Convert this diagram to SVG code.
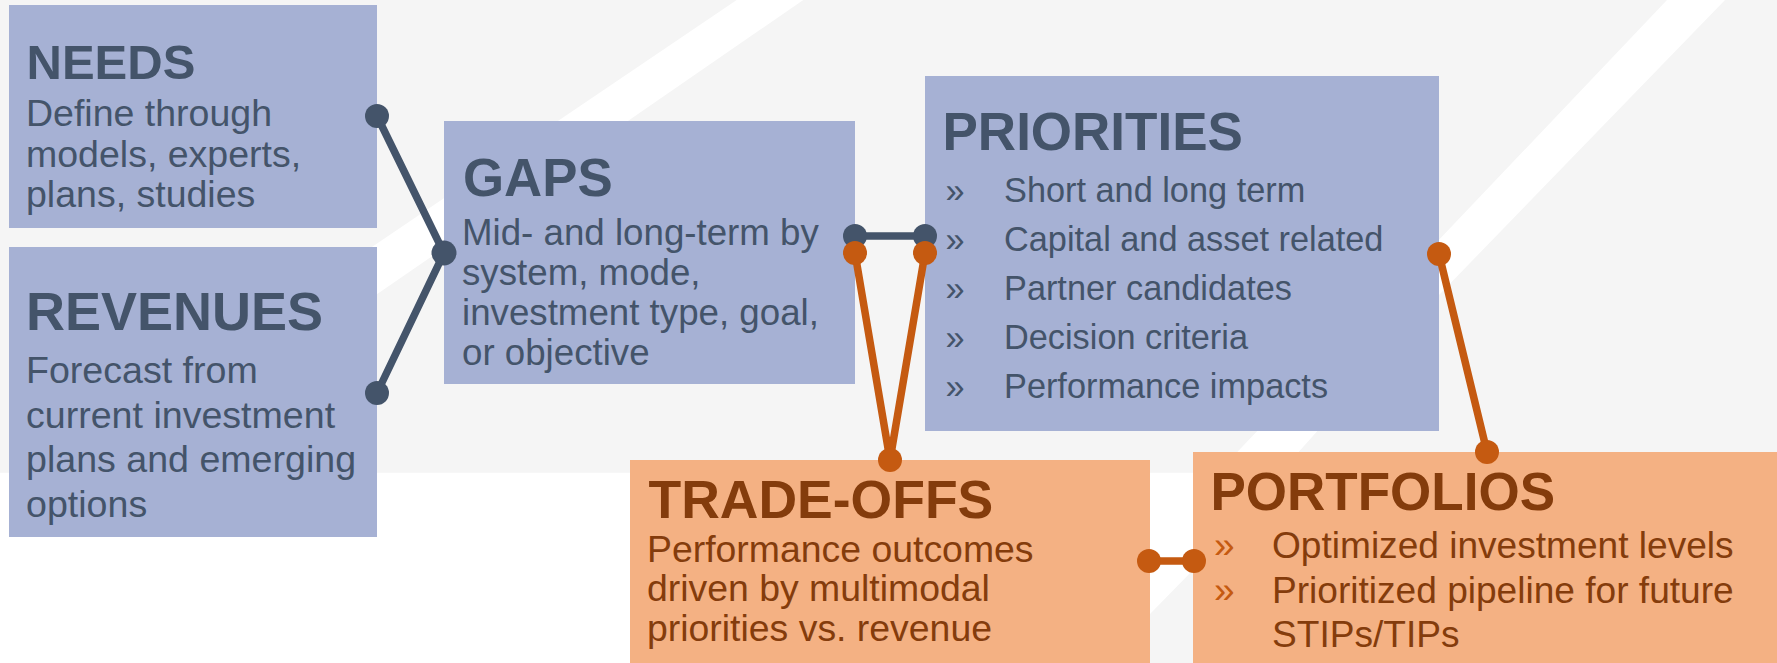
<svg xmlns="http://www.w3.org/2000/svg" width="1777" height="663" viewBox="0 0 1777 663">
<style>
text{font-family:"Liberation Sans",Arial,Helvetica,sans-serif}
.bb{fill:#A6B1D4}
.ob{fill:#F4B183}
.tn{fill:#44546A;font-weight:bold}
.bn{fill:#44546A}
.to{fill:#843C0C;font-weight:bold}
.bo{fill:#843C0C}
.ro{fill:#C55A11}
.ln{stroke:#44546A;stroke-width:7.5;stroke-linecap:round;fill:none}
.lo{stroke:#C55A11;stroke-width:7.5;stroke-linecap:round;fill:none}
.dn{fill:#44546A}
.do{fill:#C55A11}
</style>
<g id="background">
<rect x="0" y="0" width="1777" height="663" fill="#F5F5F5"/>
<polygon points="736.7,0 803.3,0 118.4,472.7 38.5,472.7" fill="#FFFFFF"/>
<polygon points="1667,0 1725,0 1439,295 1193,570 1150,614 1102,663 0,663 0,472.7 1217.5,472.7" fill="#FFFFFF"/>
</g>
<g id="needs">
<rect class="bb" x="9" y="5" width="368" height="223"/>
<text class="tn" x="26.5" y="79" font-size="49">NEEDS</text>
<text class="bn" font-size="37.5"><tspan x="26" y="126">Define through</tspan><tspan x="26" y="166.5">models, experts,</tspan><tspan x="26" y="207">plans, studies</tspan></text>
</g>
<g id="revenues">
<rect class="bb" x="9" y="247" width="368" height="290"/>
<text class="tn" x="26" y="330" font-size="54">REVENUES</text>
<text class="bn" font-size="37.6"><tspan x="26" y="383">Forecast from</tspan><tspan x="26" y="427.5">current investment</tspan><tspan x="26" y="472">plans and emerging</tspan><tspan x="26" y="516.5">options</tspan></text>
</g>
<g id="gaps">
<rect class="bb" x="444" y="121" width="411" height="263"/>
<text class="tn" x="463" y="196" font-size="52.8">GAPS</text>
<text class="bn" font-size="36.7"><tspan x="462" y="245">Mid- and long-term by</tspan><tspan x="462" y="285">system, mode,</tspan><tspan x="462" y="325">investment type, goal,</tspan><tspan x="462" y="365">or objective</tspan></text>
</g>
<g id="priorities">
<rect class="bb" x="925" y="76" width="514" height="355"/>
<text class="tn" x="942.5" y="150" font-size="53">PRIORITIES</text>
<g class="bn" font-size="34.3">
<text x="945.5" y="201.5">»</text><text x="1004" y="201.5">Short and long term</text>
<text x="945.5" y="250.5">»</text><text x="1004" y="250.5">Capital and asset related</text>
<text x="945.5" y="299.5">»</text><text x="1004" y="299.5">Partner candidates</text>
<text x="945.5" y="348.5">»</text><text x="1004" y="348.5">Decision criteria</text>
<text x="945.5" y="397.5">»</text><text x="1004" y="397.5">Performance impacts</text>
</g>
</g>
<g id="trade-offs">
<rect class="ob" x="630" y="460" width="520" height="203"/>
<text class="to" x="648.5" y="518" font-size="53.5">TRADE-OFFS</text>
<text class="bo" font-size="37.4"><tspan x="647" y="561.5">Performance outcomes</tspan><tspan x="647" y="601">driven by multimodal</tspan><tspan x="647" y="640.5">priorities vs. revenue</tspan></text>
</g>
<g id="portfolios">
<rect class="ob" x="1193" y="452" width="584" height="211"/>
<text class="to" x="1210.5" y="509.5" font-size="53">PORTFOLIOS</text>
<text class="ro" x="1214" y="557.5" font-size="37">»</text>
<text class="ro" x="1214" y="602.5" font-size="37">»</text>
<text class="bo" font-size="37.1"><tspan x="1272" y="557.5">Optimized investment levels</tspan><tspan x="1272" y="602.5">Prioritized pipeline for future</tspan><tspan x="1272" y="647">STIPs/TIPs</tspan></text>
</g>
<g id="connectors">
<g id="navy-connectors">
<polyline class="ln" points="377,116 444,253 377,393"/>
<line class="ln" x1="855" y1="236" x2="925" y2="236"/>
<circle class="dn" cx="377" cy="116" r="12"/>
<circle class="dn" cx="444" cy="253" r="12.5"/>
<circle class="dn" cx="377" cy="393" r="12"/>
<circle class="dn" cx="855" cy="236" r="12"/>
<circle class="dn" cx="925" cy="236" r="12"/>
</g>
<g id="orange-connectors">
<polyline class="lo" points="855,253 890,460 925,253"/>
<line class="lo" x1="1439" y1="254" x2="1487" y2="452"/>
<line class="lo" x1="1149" y1="561" x2="1194" y2="561"/>
<circle class="do" cx="855" cy="253" r="12"/>
<circle class="do" cx="925" cy="253" r="12"/>
<circle class="do" cx="890" cy="460" r="12"/>
<circle class="do" cx="1439" cy="254" r="12"/>
<circle class="do" cx="1487" cy="452" r="12"/>
<circle class="do" cx="1149" cy="561" r="12"/>
<circle class="do" cx="1194" cy="561" r="12"/>
</g>
</g>
</svg>
